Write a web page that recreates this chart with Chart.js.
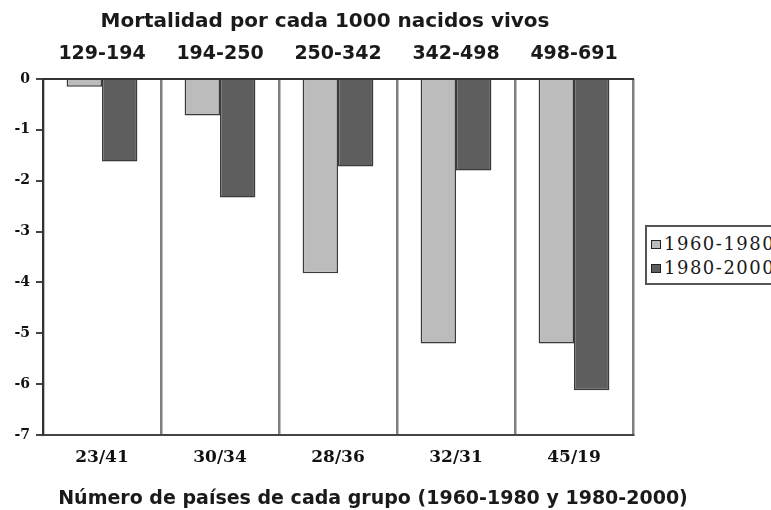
<!DOCTYPE html>
<html>
<head>
<meta charset="utf-8">
<script src="https://cdn.jsdelivr.net/npm/chart.js@4/dist/chart.umd.min.js"></script>
<style>
  html, body { margin:0; padding:0; background:#fff; overflow:hidden; }
  #wrap { position:relative; width:771px; height:510px; overflow:hidden; }
  .ttl { position:absolute; white-space:nowrap; transform:translateX(-50%);
         font-family:"DejaVu Sans"; font-weight:bold; color:#1a1a1a; line-height:24px; }
  #legend { position:absolute; left:645px; top:225px; width:160px; height:56px;
            border:2px solid #555; border-right:none; background:#fff; }
  .item { position:absolute; left:4px; font-family:"DejaVu Serif"; font-size:18px; letter-spacing:1.5px;
          color:#1a1a1a; line-height:20px; white-space:nowrap; }
  .sw { display:inline-block; width:8px; height:7px; border:1px solid #222; margin-right:3px; vertical-align:1px; }
</style>
</head>
<body>
<div id="wrap">
  <canvas id="chart" width="771" height="510"></canvas>
  <div class="ttl" id="topTitle" style="left:325px; top:8px; font-size:20px;"></div>
  <div class="ttl" id="bottomTitle" style="left:373px; top:485px; font-size:19px;"></div>
  <div id="legend"></div>
</div>
<script>
const $ = (id)=>document.getElementById(id);

// data
const ranges = ['129-194','194-250','250-342','342-498','498-691'];
const counts = ['23/41','30/34','28/36','32/31','45/19'];
const seriesNames = ['1960-1980','1980-2000'];
const values6080 = [-0.15, -0.72, -3.82, -5.2, -5.2];
const values8000 = [-1.62, -2.33, -1.72, -1.8, -6.12];
const colors = ['#bcbcbc','#5e5e5e'];
const topTitle = 'Mortalidad por cada 1000 nacidos vivos';
const bottomTitle = 'Número de países de cada grupo (1960-1980 y 1980-2000)';

$("topTitle").textContent = topTitle;
$("bottomTitle").textContent = bottomTitle;
$("legend").innerHTML = seriesNames.map((n,i)=>
  `<div class="item" style="top:${7+i*24}px"><span class="sw" style="background:${colors[i]}"></span>${n}</div>`).join('');

const serif = (size, weight)=>({ family:'DejaVu Serif', size, weight });

new Chart($("chart").getContext('2d'), {
  type:'bar',
  data:{
    labels: counts,
    datasets:[
      { label:seriesNames[0], data:values6080, backgroundColor:colors[0], borderColor:'#3a3a3a', borderWidth:1.5 },
      { label:seriesNames[1], data:values8000, backgroundColor:colors[1], borderColor:'#3a3a3a', borderWidth:1.5 }
    ]
  },
  options:{
    responsive:false,
    animation:false,
    layout:{ padding:{ left:0, right:138, top:0, bottom:0 } },
    datasets:{ bar:{ categoryPercentage:0.6, barPercentage:1 } },
    plugins:{ legend:{ display:false }, tooltip:{ enabled:false } },
    scales:{
      x:{
        position:'bottom', offset:true,
        grid:{ offset:true, color:'#808080', lineWidth:2.5, drawTicks:false },
        border:{ color:'#444', width:2 },
        ticks:{ font:serif(17,'bold'), color:'#111', padding:12 },
        afterFit:(s)=>{ s.height = 75; }
      },
      x2:{
        type:'category', position:'top', labels:ranges, offset:true,
        grid:{ display:false },
        border:{ display:true, color:'#333', width:2 },
        ticks:{ font:{ family:'DejaVu Sans', size:19, weight:'bold' }, color:'#1a1a1a', padding:6 },
        afterFit:(s)=>{ s.height = 79; }
      },
      y:{
        min:-7, max:0,
        ticks:{ stepSize:1, font:serif(14,'bold'), color:'#111', padding:6 },
        grid:{ drawOnChartArea:false, tickLength:7, color:'#444', lineWidth:2 },
        border:{ color:'#333', width:2 },
        afterFit:(s)=>{ s.width = 43; }
      }
    }
  }
});
</script>
</body>
</html>
